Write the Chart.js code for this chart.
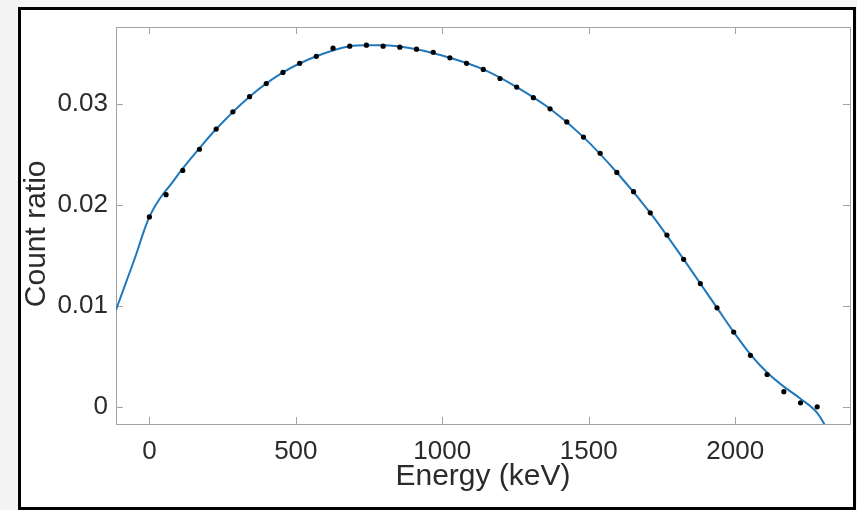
<!DOCTYPE html>
<html>
<head>
<meta charset="utf-8">
<script src="https://cdn.jsdelivr.net/npm/chart.js@4"></script>
<style>
  html, body { margin: 0; padding: 0; background: #f4f4f4; }
  canvas { display: block; }
</style>
</head>
<body>
<canvas id="countChart" width="857" height="510"></canvas>
<script>
// measured points (black dots)
const energies = [0, 57, 114, 171, 228, 285, 342, 399, 456, 513, 570, 627, 684, 741, 798, 855, 912, 969, 1026, 1083,
  1140, 1197, 1254, 1311, 1368, 1425, 1482, 1539, 1596, 1653, 1710, 1767, 1824, 1881, 1938, 1995, 2052, 2109, 2166, 2223, 2280];
const counts = [0.0188, 0.0210, 0.0234, 0.0255, 0.0275, 0.0292, 0.0307, 0.0320, 0.0331, 0.0340, 0.0347, 0.0355, 0.0357, 0.0358,
  0.0357, 0.0356, 0.0354, 0.0351, 0.03455, 0.0340, 0.0334, 0.0325, 0.03165, 0.0306, 0.0295, 0.0282, 0.0267, 0.0251, 0.0232,
  0.0213, 0.0192, 0.0170, 0.0146, 0.0122, 0.0098, 0.0074, 0.0051, 0.0032, 0.0015, 0.0004, 0.0000];

// fitted curve (blue line)
const fitEnergies = [-114, -80, -45, -20, 0, 20, 40, 70, 114, 171, 228, 342, 456, 570, 684, 741, 798, 912, 1026, 1140, 1254,
  1368, 1482, 1596, 1710, 1824, 1938, 1995, 2052, 2109, 2166, 2223, 2280, 2320];
const fitCounts = [0.0096, 0.0123, 0.0151, 0.0173, 0.0188, 0.0199, 0.0208, 0.0219, 0.0236, 0.0256, 0.0275, 0.0307, 0.0331,
  0.0347, 0.0357, 0.0358, 0.0358, 0.0354, 0.03455, 0.0334, 0.03165, 0.0295, 0.0267, 0.0232, 0.0192, 0.0146, 0.0098, 0.0074,
  0.0052, 0.0034, 0.0020, 0.0008, -0.0006, -0.0025];

const xTicks = [0, 500, 1000, 1500, 2000];
const yTicks = [0, 0.01, 0.02, 0.03];
const yTickLabels = ['0', '0.01', '0.02', '0.03'];

const FONT = "'Liberation Sans', Arial, Helvetica, sans-serif";
const AXIS_GRAY = '#a3a3a3';
const TEXT = '#2b2b2b';

// white figure box with black frame behind everything
const framePlugin = {
  id: 'frame',
  beforeDraw(chart) {
    const ctx = chart.ctx;
    ctx.save();
    ctx.fillStyle = '#f4f4f4';
    ctx.fillRect(0, 0, chart.width, chart.height);
    ctx.fillStyle = '#ffffff';
    ctx.fillRect(19, 8, 836, 501);
    ctx.strokeStyle = '#000000';
    ctx.lineWidth = 3;
    ctx.strokeRect(19.5, 8.5, 835, 500);
    ctx.restore();
  }
};

// matlab style box with inward ticks on all four sides
const boxTicksPlugin = {
  id: 'boxTicks',
  beforeDatasetsDraw(chart) {
    const {ctx, chartArea: a, scales} = chart;
    ctx.save();
    ctx.strokeStyle = AXIS_GRAY;
    ctx.lineWidth = 1;
    ctx.strokeRect(Math.round(a.left) + 0.5, Math.round(a.top) + 0.5,
      Math.round(a.right - a.left), Math.round(a.bottom - a.top));
    ctx.beginPath();
    xTicks.forEach(v => {
      const px = Math.round(scales.x.getPixelForValue(v)) + 0.5;
      ctx.moveTo(px, a.bottom); ctx.lineTo(px, a.bottom - 7);
      ctx.moveTo(px, a.top); ctx.lineTo(px, a.top + 7);
    });
    yTicks.forEach(v => {
      const py = Math.round(scales.y.getPixelForValue(v)) + 0.5;
      ctx.moveTo(a.left, py); ctx.lineTo(a.left + 7, py);
      ctx.moveTo(a.right, py); ctx.lineTo(a.right - 7, py);
    });
    ctx.stroke();
    ctx.restore();
  }
};

new Chart(document.getElementById('countChart'), {
  type: 'scatter',
  data: {
    datasets: [
      {
        label: 'Measured',
        data: energies.map((e, i) => ({x: e, y: counts[i]})),
        backgroundColor: '#000000',
        borderColor: '#000000',
        pointRadius: 2.6,
        pointBorderWidth: 0,
        showLine: false,
        order: 0
      },
      {
        label: 'Fit',
        data: fitEnergies.map((e, i) => ({x: e, y: fitCounts[i]})),
        borderColor: '#1f78bb',
        borderWidth: 2,
        pointRadius: 0,
        showLine: true,
        cubicInterpolationMode: 'monotone',
        clip: 0,
        order: 1
      }
    ]
  },
  options: {
    responsive: false,
    animation: false,
    devicePixelRatio: 1,
    layout: { padding: { left: 0, top: 27, right: 7, bottom: 0 } },
    plugins: {
      legend: { display: false },
      tooltip: { enabled: false }
    },
    scales: {
      x: {
        type: 'linear',
        min: -114,
        max: 2392,
        afterBuildTicks: s => { s.ticks = xTicks.map(v => ({value: v})); },
        afterFit: s => { s.height = 86; },
        grid: { display: false, drawTicks: false },
        border: { display: false },
        ticks: {
          padding: 12,
          color: TEXT,
          font: { family: FONT, size: 26 },
          callback: v => String(v)
        },
        title: {
          display: true,
          text: 'Energy (keV)',
          color: TEXT,
          font: { family: FONT, size: 30 },
          padding: { top: 0, bottom: 15 }
        }
      },
      y: {
        type: 'linear',
        min: -0.0017,
        max: 0.0376,
        afterBuildTicks: s => { s.ticks = yTicks.map(v => ({value: v})); },
        afterFit: s => { s.width = 116; },
        grid: { display: false, drawTicks: false },
        border: { display: false },
        ticks: {
          padding: 8,
          color: TEXT,
          font: { family: FONT, size: 26 },
          callback: v => yTickLabels[yTicks.indexOf(v)] ?? ''
        },
        title: {
          display: true,
          // two trailing spaces nudge the centred label down, as in the source figure
          text: 'Count ratio  ',
          color: TEXT,
          font: { family: FONT, size: 30 },
          padding: { top: 19, bottom: 0 }
        }
      }
    }
  },
  plugins: [framePlugin, boxTicksPlugin]
});
</script>
</body>
</html>
